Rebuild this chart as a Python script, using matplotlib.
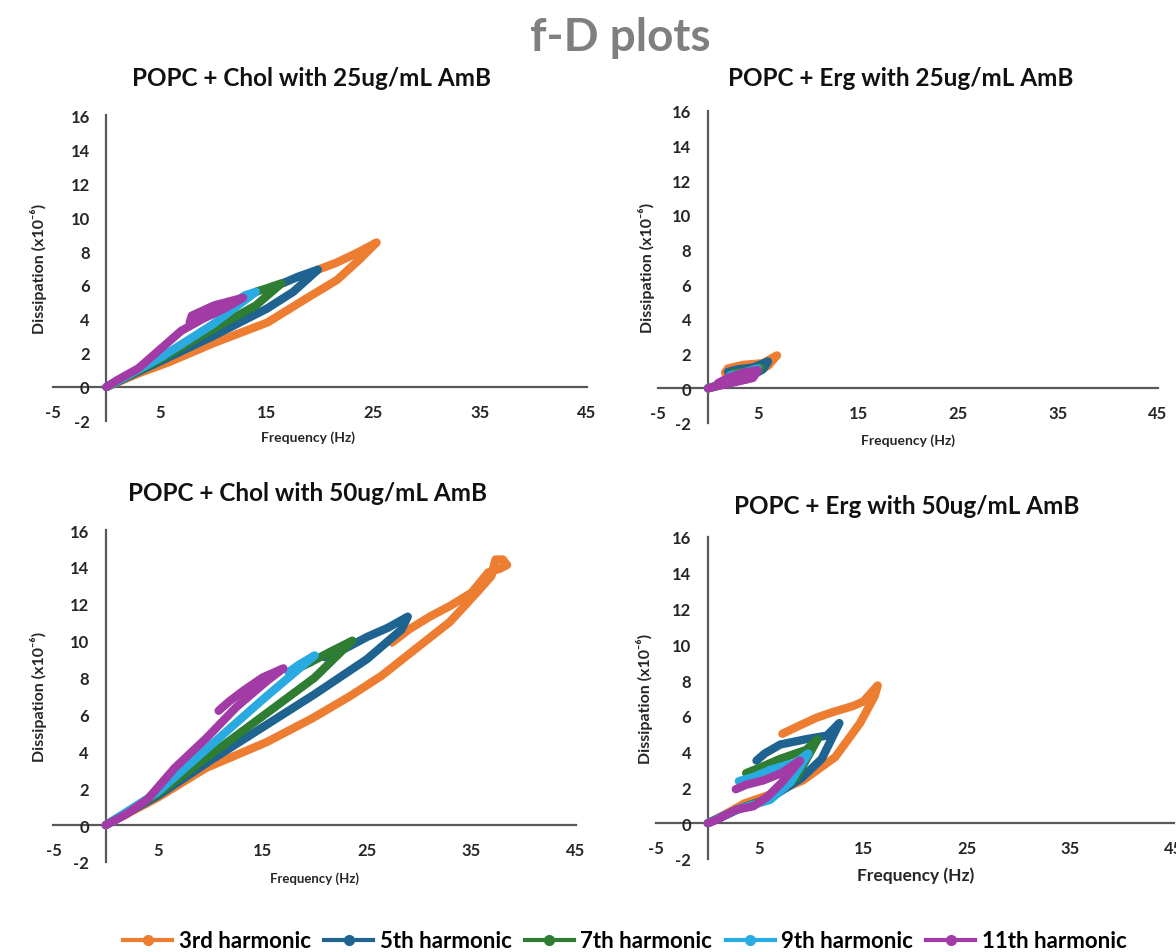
import matplotlib
matplotlib.use('Agg')
import matplotlib.pyplot as plt
from matplotlib.lines import Line2D

plt.rcParams['font.family'] = ['Lato', 'DejaVu Sans']
plt.rcParams['font.weight'] = 'bold'
plt.rcParams['axes.unicode_minus'] = False

harmonics = ['3rd harmonic', '5th harmonic', '7th harmonic', '9th harmonic', '11th harmonic']
colors = ['#ED7D31', '#1F6391', '#2E7D32', '#29ABE2', '#A23BA5']

# f-D loops: frequency shift (Hz) and dissipation (x1e-6)
chol25_f = {
    '3rd': [0, 3, 5.8, 10.1, 15.1, 18.7, 21.6, 23.7, 25.3, 23.5, 21.5, 19.8],
    '5th': [0, 5, 10, 15, 17.5, 19.8, 18, 16.5],
    '7th': [0, 5, 10, 14, 16.4, 15, 14],
    '9th': [0, 5, 10, 14, 13, 12],
    '11th': [0, 1, 3, 5, 7, 9, 11, 12.8, 10.1, 8.0, 7.8],
}
chol25_d = {
    '3rd': [0, 0.8, 1.45, 2.6, 3.8, 5.2, 6.3, 7.5, 8.5, 7.9, 7.3, 6.9],
    '5th': [0, 1.5, 3.0, 4.6, 5.6, 6.9, 6.5, 6.1],
    '7th': [0, 1.6, 3.4, 4.8, 6.1, 5.8, 5.6],
    '9th': [0, 1.7, 3.7, 5.6, 5.4, 5.0],
    '11th': [0, 0.4, 1.1, 2.2, 3.3, 4.0, 4.6, 5.25, 4.8, 4.2, 3.8],
}

erg25_f = {
    '3rd': [0, 2, 4, 6, 6.9, 5.5, 3.5, 2, 1.7],
    '5th': [0, 2, 4, 5.5, 6, 4.5, 3, 2],
    '7th': [0, 2, 4, 5.3, 4, 2.5],
    '9th': [0, 2, 4, 5, 3.5, 2.2],
    '11th': [0, 1.5, 3, 4.5, 5, 3.5, 2, 1],
}
erg25_d = {
    '3rd': [0, 0.4, 0.7, 1.3, 1.9, 1.45, 1.35, 1.15, 0.9],
    '5th': [0, 0.35, 0.6, 1.1, 1.55, 1.2, 1.1, 0.95],
    '7th': [0, 0.3, 0.55, 1.2, 1.0, 0.9],
    '9th': [0, 0.3, 0.55, 1.15, 0.9, 0.75],
    '11th': [0, 0.2, 0.4, 0.6, 1.05, 0.9, 0.6, 0.3],
}

chol50_f = {
    '3rd': [0, 3, 5, 9.6, 15.4, 19.8, 23.4, 26.4, 29.3, 32.9, 35.5, 36.9, 37.3, 38.0,
            38.4, 37.7, 36.6, 35, 33, 31, 29, 27.4],
    '5th': [0, 5, 10, 15, 20, 25, 28.3, 28.9, 27, 25, 23, 21],
    '7th': [0, 5, 10, 15, 20, 23.6, 21.5, 19.5, 18],
    '9th': [0, 5, 10, 15, 20, 18.5, 17.5],
    '11th': [0, 2, 4, 6.6, 9.6, 12.5, 15.4, 17, 15, 13.2, 11.8, 10.8],
}
chol50_d = {
    '3rd': [0, 0.9, 1.5, 3.1, 4.5, 5.8, 7.0, 8.1, 9.4, 11.0, 12.6, 13.5, 14.4, 14.4,
            14.1, 13.9, 13.7, 12.6, 11.9, 11.3, 10.6, 9.9],
    '5th': [0, 1.6, 3.5, 5.3, 7.1, 9.0, 10.6, 11.3, 10.7, 10.2, 9.6, 9.1],
    '7th': [0, 1.7, 3.8, 5.9, 8.0, 10.0, 9.4, 8.8, 8.4],
    '9th': [0, 1.8, 4.3, 6.8, 9.2, 8.7, 8.3],
    '11th': [0, 0.6, 1.4, 3.1, 4.7, 6.4, 7.8, 8.5, 8.0, 7.3, 6.7, 6.2],
}

erg50_f = {
    '3rd': [0, 2, 3.5, 6, 9.2, 12.3, 14.7, 16.1, 16.4, 15, 14, 12, 10.5, 9, 7.2],
    '5th': [0, 3, 6, 9, 11, 12.7, 11.5, 9.5, 7, 5.5, 4.7],
    '7th': [0, 3, 6, 8.5, 10.6, 9.5, 7, 5, 3.7],
    '9th': [0, 3, 6, 8, 9.7, 8.5, 6.1, 4.5, 3],
    '11th': [0, 0.9, 2.7, 4.4, 5.8, 7.1, 8.9, 7.1, 5.4, 3.7, 2.7],
}
erg50_d = {
    '3rd': [0, 0.6, 1.1, 1.6, 2.4, 3.7, 5.6, 7.1, 7.7, 6.8, 6.55, 6.2, 5.9, 5.5, 5.0],
    '5th': [0, 0.8, 1.4, 2.5, 3.6, 5.6, 4.9, 4.7, 4.4, 3.9, 3.5],
    '7th': [0, 0.8, 1.4, 2.5, 4.7, 4.1, 3.6, 3.1, 2.8],
    '9th': [0, 0.8, 1.3, 2.3, 3.9, 3.4, 3.0, 2.6, 2.35],
    '11th': [0, 0.2, 0.75, 0.95, 1.5, 2.25, 3.5, 2.8, 2.4, 2.15, 1.9],
}

keys = ['3rd', '5th', '7th', '9th', '11th']

W, H = 1176, 953
fig = plt.figure(figsize=(W / 100, H / 100), dpi=100)
fig.patch.set_facecolor('white')

panels = [
    # title, f, d, axes box (px: left, right, top, bottom), title pos, xlabel size,
    # xlabel pos, ylabel pos (axes coords)
    ('POPC + Chol with 25ug/mL AmB', chol25_f, chol25_d, (53, 587, 116, 422), (312, 78),
     10, (0.478, -0.03), (-0.011, 0.5)),
    ('POPC + Erg with 25ug/mL AmB', erg25_f, erg25_d, (658, 1158, 112, 424), (901, 78),
     10, (0.5, -0.032), (-0.006, 0.5)),
    ('POPC + Chol with 50ug/mL AmB', chol50_f, chol50_d, (53.5, 576, 531, 863), (308, 494),
     9.5, (0.5, -0.027), (-0.012, 0.5)),
    ('POPC + Erg with 50ug/mL AmB', erg50_f, erg50_d, (656, 1174, 538, 860), (907, 506),
     12.5, (0.502, -0.022), (-0.006, 0.5)),
]

for title, fd, dd, box, tpos, xls, xlpos, ylpos in panels:
    l, r, t, b = box
    ax = fig.add_axes([l / W, 1 - b / H, (r - l) / W, (b - t) / H])
    for k, c in zip(keys, colors):
        ax.plot(fd[k], dd[k], color=c, lw=6, solid_joinstyle='round',
                solid_capstyle='round')
    ax.set_xlim(-5, 45)
    ax.set_ylim(-2, 16)
    ax.set_xticks([-5, 5, 15, 25, 35, 45])
    ax.set_yticks(range(-2, 17, 2))
    ax.spines['left'].set_position(('data', 0))
    ax.spines['bottom'].set_position(('data', 0))
    ax.spines['top'].set_visible(False)
    ax.spines['right'].set_visible(False)
    for s in ['left', 'bottom']:
        ax.spines[s].set_color('#595959')
        ax.spines[s].set_linewidth(1.6)
        ax.spines[s].set_zorder(0)
    ax.tick_params(axis='y', length=0, pad=12, labelsize=12, colors='#262626')
    ax.tick_params(axis='x', length=0, pad=12, labelsize=12, colors='#262626')
    for lab in ax.get_xticklabels() + ax.get_yticklabels():
        lab.set_fontweight('bold')
    ax.patch.set_alpha(0)
    ax.set_xlabel('Frequency (Hz)', fontsize=xls, fontweight='bold', color='#262626')
    ax.xaxis.set_label_coords(*xlpos)
    ax.set_ylabel('Dissipation (x10\u207b\u2076)', fontsize=11.5, fontweight='bold', color='#262626')
    ax.yaxis.set_label_coords(*ylpos)
    fig.text(tpos[0] / W, 1 - tpos[1] / H, title, ha='center', va='center',
             fontsize=17.5, fontweight='bold', color='#111111')

fig.text(620 / W, 1 - 38 / H, 'f-D plots', ha='center', va='center',
         fontsize=33, fontweight='bold', color='#7F7F7F')

handles = [Line2D([], [], color=c, lw=3, marker='o', ms=7) for c in colors]
fig.legend(handles, harmonics, loc='center', bbox_to_anchor=(625 / W, 1 - 942 / H),
           ncol=5, frameon=False, handlelength=2.2, handletextpad=0.3,
           columnspacing=0.6, prop={'weight': 'bold', 'size': 16})

fig.savefig('out.png', dpi=100)
